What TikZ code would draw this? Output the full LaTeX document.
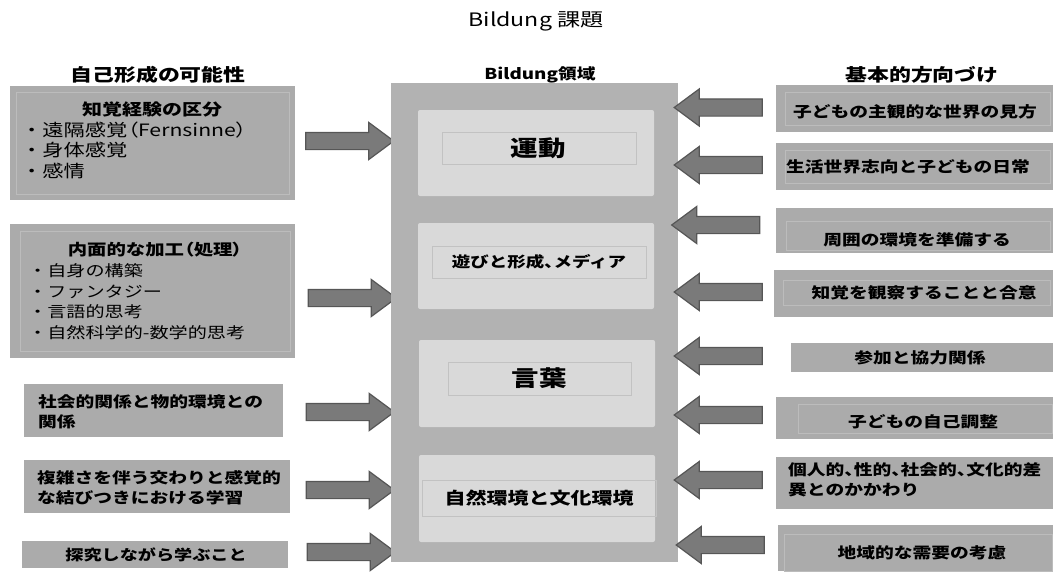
\documentclass[tikz,border=0pt]{standalone}
\usepackage{fontspec}
\newfontfamily\jp[FakeStretch=1.25]{Noto Sans CJK JP}
\newcommand\pp[1]{{\addfontfeature{RawFeature=+palt}#1}}
\usetikzlibrary{shapes.arrows}
\definecolor{boxgray}{HTML}{ABABAB}
\definecolor{boxline}{HTML}{BCBCBC}
\definecolor{midgray}{HTML}{B2B2B2}
\definecolor{subgray}{HTML}{D9D9D9}
\definecolor{subline}{HTML}{C2C2C2}
\definecolor{arrowfill}{HTML}{7A7A7A}
\definecolor{arrowline}{HTML}{565656}
\tikzset{
  gbox/.style={fill=boxgray, draw=none, inner sep=0pt},
  gline/.style={draw=boxline, line width=0.8pt, inner sep=0pt},
  mbox/.style={fill=midgray, draw=none, inner sep=0pt},
  sbox/.style={fill=subgray, draw=none, rounded corners=2pt, inner sep=0pt},
  sline/.style={draw=subline, line width=0.8pt, inner sep=0pt},
  barrow/.style={single arrow, fill=arrowfill, draw=arrowline, line width=1.2pt,
    minimum height=88pt, minimum width=37pt, single arrow head extend=10pt,
    single arrow tip angle=73, inner xsep=0pt, inner ysep=8pt},
  larrow/.style={barrow, shape border rotate=180},
  hdr/.style={font=\jp\bfseries\fontsize{17.5}{20}\selectfont, inner sep=0pt},
  ttl/.style={font=\jp\fontsize{18.5}{20}\selectfont, inner sep=0pt},
  txt/.style={font=\jp\bfseries\fontsize{15}{20.5}\selectfont, inner sep=0pt},
  big/.style={font=\jp\bfseries\fontsize{22}{24}\selectfont, inner sep=0pt},
  itm/.style={font=\jp\fontsize{#1}{20.5}\selectfont, inner sep=0pt, align=left, anchor=west},
}
\begin{document}
\begin{tikzpicture}[x=1pt,y=-1pt]
\useasboundingbox (0,0) rectangle (1053,571);
% title and headers
\node[ttl] (title) at (536,21) {Bildung 課題};
\node[hdr] (hl) at (158,75) {自己形成の可能性};
\node[txt] (hm) at (540,75) {Bildung領域};
\node[hdr] (hr) at (922,75) {基本的方向づけ};

% left boxes
\node[gbox, minimum width=285pt, minimum height=114pt] (l1) at (152.5,143) {};
\node[gline, minimum width=273pt, minimum height=102pt] (l1i) at (152.5,143) {};
\node[txt, font=\jp\bfseries\fontsize{16}{20}\selectfont] (l1t) at (152,109) {知覚経験の区分};
\node[itm=17] (l1x) at (21,150) {・遠隔感覚\pp{（}Fernsinne\pp{）}\\・身体感覚\\・感情};

\node[gbox, minimum width=285pt, minimum height=134pt] (l2) at (152.5,291) {};
\node[gline, minimum width=270pt, minimum height=120pt] (l2i) at (155,291) {};
\node[txt, font=\jp\bfseries\fontsize{15.5}{20}\selectfont] (l2t) at (155,250) {内面的な加工\pp{（}処理\pp{）}};
\node[itm=15.3] (l2x) at (28,301.5) {・自身の構築\\・ファンタジー\\・言語的思考\\・自然科学的-数学的思考};

\node[gbox, minimum width=259pt, minimum height=53pt] (l3) at (153.5,410.5) {};
\node[txt, align=left, anchor=west] (l3t) at (38,412) {社会的関係と物的環境との\\関係};

\node[gbox, minimum width=266pt, minimum height=53pt] (l4) at (157,486.5) {};
\node[txt, align=left, anchor=west] (l4t) at (37,487.5) {複雑さを伴う交わりと感覚的\\な結びつきにおける学習};

\node[gbox, minimum width=266pt, minimum height=27pt] (l5) at (155,554.5) {};
\node[txt, font=\jp\bfseries\fontsize{14.5}{18}\selectfont] (l5t) at (156,555) {探究しながら学ぶこと};

% left arrows
\node[barrow] (a1) at (344,141) {};
\node[barrow] (a2) at (346.5,298) {};
\node[barrow] (a3) at (344.5,412) {};
\node[barrow] (a4) at (344.5,490) {};
\node[barrow] (a5) at (345.5,552) {};

% middle
\node[mbox, minimum width=287pt, minimum height=479pt] (m) at (534.5,322.5) {};
\node[sbox, minimum width=236pt, minimum height=86pt] (s1) at (536,153) {};
\node[sline, minimum width=194pt, minimum height=32pt] (i1) at (539,148) {};
\node[big] (t1) at (538,148) {運動};
\node[sbox, minimum width=236pt, minimum height=86pt] (s2) at (536,266) {};
\node[sline, minimum width=214pt, minimum height=32pt] (i2) at (539,262) {};
\node[txt, font=\jp\bfseries\fontsize{14.8}{18}\selectfont] (t2) at (539,262) {遊びと形成\pp{、}メディア};
\node[sbox, minimum width=236pt, minimum height=87pt] (s3) at (537,383.5) {};
\node[sline, minimum width=183pt, minimum height=33pt] (i3) at (539.5,378.5) {};
\node[big] (t3) at (539,378) {言葉};
\node[sbox, minimum width=236pt, minimum height=87pt] (s4) at (537,498.5) {};
\node[sline, minimum width=234pt, minimum height=36pt] (i4) at (539,498) {};
\node[txt, font=\jp\bfseries\fontsize{16.8}{20}\selectfont] (t4) at (539,498) {自然環境と文化環境};

% right arrows
\node[larrow] (b1) at (724,107.5) {};
\node[larrow] (b2) at (724,165) {};
\node[larrow] (b3) at (721.5,225) {};
\node[larrow] (b4) at (724,292) {};
\node[larrow] (b5) at (724,356) {};
\node[larrow] (b6) at (724,415) {};
\node[larrow] (b7) at (724,480) {};
\node[larrow] (b8) at (726,545) {};

% right boxes
\node[gbox, minimum width=277pt, minimum height=47pt] (r1) at (914.5,108.5) {};
\node[gline, minimum width=265pt, minimum height=33pt] (r1i) at (917.5,108.5) {};
\node[txt] (r1t) at (915,112) {子どもの主観的な世界の見方};

\node[gbox, minimum width=277pt, minimum height=47pt] (r2) at (914.5,166.5) {};
\node[gline, minimum width=265pt, minimum height=33pt] (r2i) at (917.5,166.5) {};
\node[txt] (r2t) at (908,167) {生活世界志向と子どもの日常};

\node[gbox, minimum width=277pt, minimum height=45pt] (r3) at (914.5,230.5) {};
\node[gline, minimum width=264pt, minimum height=29pt] (r3i) at (918,235.5) {};
\node[txt] (r3t) at (917,240) {周囲の環境を準備する};

\node[gbox, minimum width=279pt, minimum height=47pt] (r4) at (913.5,293.5) {};
\node[gline, minimum width=267pt, minimum height=25pt] (r4i) at (916.5,292.5) {};
\node[txt] (r4t) at (924,293) {知覚を観察することと合意};

\node[gbox, minimum width=262pt, minimum height=29pt] (r5) at (922,357.5) {};
\node[txt] (r5t) at (920,358) {参加と協力関係};

\node[gbox, minimum width=277pt, minimum height=42pt] (r6) at (914.5,418) {};
\node[gline, minimum width=254pt, minimum height=29pt] (r6i) at (925,418.5) {};
\node[txt] (r6t) at (923,422) {子どもの自己調整};

\node[gbox, minimum width=277pt, minimum height=52pt] (r7) at (914.5,483) {};
\node[txt, align=left, anchor=west] (r7t) at (788,480) {個人的\pp{、}性的\pp{、}社会的\pp{、}文化的差\\異とのかかわり};

\node[gbox, minimum width=275pt, minimum height=46pt] (r8) at (915.5,548) {};
\node[gline, minimum width=268pt, minimum height=37pt] (r8i) at (918,552.5) {};
\node[txt] (r8t) at (922,553) {地域的な需要の考慮};
\end{tikzpicture}
\end{document}
